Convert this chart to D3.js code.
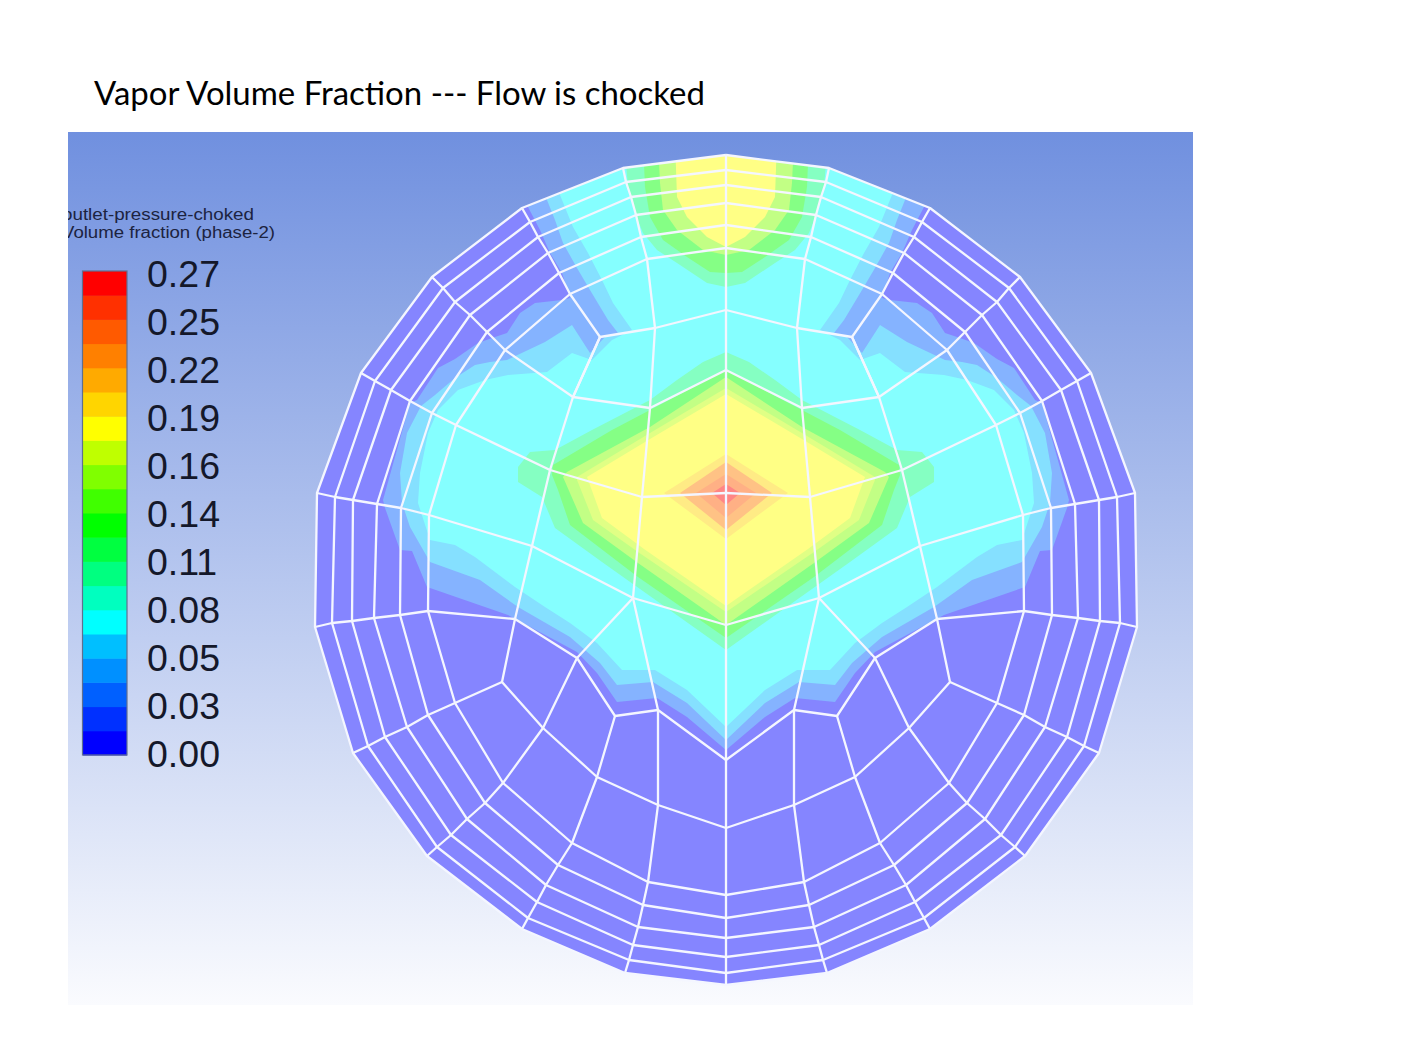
<!DOCTYPE html>
<html><head><meta charset="utf-8">
<script src="https://cdn.jsdelivr.net/npm/d3@7/dist/d3.min.js"></script>
<style>html,body{margin:0;padding:0;background:#fff}svg{display:block}</style>
</head><body><svg id="c" width="1414" height="1052"></svg>
<script>
// ---------- text ----------
const titleText = "Vapor Volume Fraction --- Flow is chocked";
const legendHeader = ["outlet-pressure-choked", "Volume fraction (phase-2)"];
const legendLabels = ["0.27","0.25","0.22","0.19","0.16","0.14","0.11","0.08","0.05","0.03","0.00"];
// colour bar, bottom to top
const legendColors = ["#0000ff","#0030ff","#0060ff","#0090ff","#00bfff","#00ffff","#00ffbf","#00ff80","#00ff40","#00ff00",
  "#40ff00","#80ff00","#bfff00","#ffff00","#ffd500","#ffaa00","#ff8000","#ff5a00","#ff3000","#ff0000"];

// ---------- mesh spokes, left half, section coordinates [u, v], outer boundary first ----------
const spokeTop   = [[0,415],[0,400],[0,385],[0,367],[0,345],[0,322]];
const spokeA     = [[-103,402],[-100,388],[-95,373],[-90,355],[-85,333],[-79,311]];
const spokeB     = [[-204,362],[-196,348],[-188,333],[-178,317],[-167,297],[-156,276]];
const spokeC     = [[-294,293],[-283,282],[-271,268],[-256,255],[-239,238],[-221,220]];
const spokeD     = [[-365,197],[-351,189],[-335,180],[-316,169],[-294,157],[-270,145]];
const spokeE     = [[-409,77],[-391,73],[-373,70],[-349,66],[-325,62],[-297,55]];
const spokeF     = [[-411,-57],[-394,-53],[-374,-51],[-352,-48],[-326,-45],[-298,-41]];
const spokeG     = [[-373,-183],[-358,-176],[-341,-167],[-319,-157],[-298,-145],[-271,-133]];
const spokeH     = [[-299,-286],[-289,-277],[-275,-265],[-259,-249],[-241,-233],[-223,-213]];
const spokeI     = [[-204,-359],[-198,-348],[-189,-332],[-180,-315],[-168,-295],[-154,-273]];
const spokeJ     = [[-101,-403],[-97,-390],[-93,-375],[-88,-357],[-83,-335],[-78,-312]];
const spokeBot   = [[0,-415],[0,-403],[0,-387],[0,-368],[0,-348],[0,-325]];
const spokes = [spokeTop,spokeA,spokeB,spokeC,spokeD,spokeE,spokeF,spokeG,spokeH,spokeI,spokeJ,spokeBot];

// ---------- interior mesh lines, left half ----------
const innerRing = [[0,260],[-71,242],[-126,233],[-153,173],[-176,100],[-194,24],[-211,-49],[-224,-112],[-183,-158],[-129,-207],[-68,-235],[0,-258]];
const innerLines = [
  [[-79,311],[-71,242],[-76,162],[-84,73],[-93,-28],[-68,-140],[-68,-235],[-78,-312]],
  [[-156,276],[-126,233],[-153,173]],
  [[-221,220],[-153,173],[-76,162],[0,200]],
  [[-270,145],[-176,100],[-84,73],[0,77]],
  [[-297,55],[-194,24],[-93,-28],[0,-55]],
  [[-298,-41],[-211,-49],[-149,-88],[-111,-146],[-68,-140],[0,-190]],
  [[-271,-133],[-224,-112]],
  [[-223,-213],[-183,-158],[-149,-88],[-93,-28]],
  [[-154,-273],[-129,-207],[-111,-146]]
];
const centreLine = [[0,415],[0,-415]];

// ---------- contour bands, left half outlines; legend index gives the value ----------
const band1 = [[-198,430],[-198,363],[-186,340],[-176,317],[-164,297],[-156,272],[-164,270],[-191,267],[-206,257],[-219,237],[-231,233],[-248,227],[-271,211],[-288,202],[-309,170],[-316,167],[-343,70],[-341,62],[-326,20],[-314,19],[-299,-17],[-296,-18],[-218,-45],[-149,-82],[-129,-103],[-109,-132],[-69,-128],[-39,-147],[0,-180]];
const band2 = [[-179,430],[-179,370],[-171,350],[-163,327],[-149,302],[-136,280],[-118,250],[-108,237],[-121,233],[-136,217],[-154,245],[-181,228],[-219,210],[-236,208],[-251,205],[-271,192],[-291,175],[-305,164],[-319,137],[-326,97],[-324,67],[-316,43],[-296,8],[-246,-10],[-208,-37],[-156,-67],[-126,-93],[-109,-115],[-73,-112],[-39,-133],[0,-170]];
const band3 = [[-166,430],[-166,375],[-153,343],[-138,317],[-124,290],[-113,267],[-94,240],[-114,230],[-134,210],[-154,217],[-179,198],[-218,195],[-241,190],[-268,180],[-288,160],[-298,137],[-306,97],[-308,67],[-296,30],[-271,25],[-251,13],[-211,-17],[-181,-37],[-156,-53],[-129,-73],[-104,-100],[-71,-100],[-39,-120],[0,-157]];
const topBand4 = [[-102,430],[-98,383],[-91,357],[-83,337],[-69,320],[-49,307],[-19,287],[0,283]];
const topBand5 = [[-83,430],[-81,383],[-76,353],[-63,330],[-39,313],[-16,298],[0,297]];
const topBand6 = [[-68,430],[-66,387],[-63,360],[-49,340],[-23,320],[0,315]];
const topBand7 = [[-51,430],[-49,373],[-39,353],[-19,333],[0,323]];
const midBand4 = [[0,218],[-23,208],[-49,190],[-76,170],[-134,140],[-171,120],[-196,118],[-208,103],[-208,88],[-184,73],[-171,42],[-124,8],[0,-80]];
const midBand5 = [[0,200],[-114,140],[-173,105],[-174,95],[-168,80],[-156,45],[-88,-7],[0,-68]];
const midBand6 = [[0,193],[-76,143],[-159,98],[-163,93],[-143,47],[-88,7],[0,-55]];
const midBand6b = [[0,182],[-76,137],[-149,93],[-149,90],[-133,50],[-88,18],[0,-42]];
const midBand7 = [[0,176],[-76,131],[-139,93],[-124,52],[-82,21],[0,-36]];
const midBand8 = [[0,116],[-62,77],[0,31]];
const midBand9 = [[0,108],[-46,77],[0,40]];
const midBand10 = [[0,96],[-30,77],[0,52]];
const midBand11 = [[0,86],[-14,77],[0,65]];
const contourBands = [band1,band2,band3,topBand4,topBand5,topBand6,topBand7,midBand4,midBand5,midBand6,midBand6b,midBand7,midBand8,midBand9,midBand10,midBand11];
const contourLegendIndex = [2,4,5,7,9,11,13,7,9,11,12,13,14,16,17,19];
const baseLegendIndex = 0;

// ---------- scales ----------
const x = d3.scaleLinear().domain([-411,411]).range([315,1137]);
const y = d3.scaleLinear().domain([-415,415]).range([985,155]);
const barY = d3.scaleBand().domain(d3.range(legendColors.length).reverse()).range([271,755]);
const labelY = d3.scalePoint().domain(legendLabels).range([287,767]);
const line = d3.line().x(d=>x(d[0])).y(d=>y(d[1]));
const mirror = pts => pts.map(([u,v])=>[-u,v]);
const closedFromHalf = half => line(half.concat(mirror(half).reverse()))+"Z";
const pale = c => d3.interpolateRgb(c,"#fff")(0.52);

// ---------- draw ----------
const svg = d3.select("#c");
const defs = svg.append("defs");
const grad = defs.append("linearGradient").attr("id","bg").attr("x1",0).attr("x2",0).attr("y1",0).attr("y2",1);
grad.append("stop").attr("offset",0).attr("stop-color","#7090df");
grad.append("stop").attr("offset",1).attr("stop-color","#fafbfe");
defs.append("clipPath").attr("id","view").append("rect").attr("x",68).attr("y",132).attr("width",1125).attr("height",873);
const outerHalf = spokes.map(s=>s[0]);
defs.append("clipPath").attr("id","disc").append("path").attr("d",closedFromHalf(outerHalf));

svg.append("text").attr("x",94).attr("y",105).attr("font-family","Lato, 'Open Sans', sans-serif").attr("font-size",33)
  .attr("textLength",611).attr("lengthAdjust","spacingAndGlyphs").attr("fill","#000").text(titleText);

const view = svg.append("g").attr("clip-path","url(#view)");
view.append("rect").attr("x",68).attr("y",132).attr("width",1125).attr("height",873).attr("fill","url(#bg)");

// legend
const legendFont = "'Liberation Sans', Arial, sans-serif";
view.selectAll("text.h").data(legendHeader).join("text").attr("class","h")
  .attr("x",62).attr("y",(d,i)=>[219.5,238][i])
  .attr("textLength",(d,i)=>[192,213][i]).attr("lengthAdjust","spacingAndGlyphs")
  .attr("font-family",legendFont).attr("font-size",16).attr("fill","#1c2340").text(d=>d);
view.selectAll("rect.b").data(legendColors).join("rect").attr("class","b")
  .attr("x",83).attr("width",44).attr("y",(d,i)=>barY(i)).attr("height",barY.bandwidth()+0.5).attr("fill",d=>d);
view.append("rect").attr("x",82.5).attr("y",271).attr("width",44.5).attr("height",484).attr("fill","none").attr("stroke","#5f6f8f").attr("stroke-width",1.2);
view.selectAll("text.l").data(legendLabels).join("text").attr("class","l")
  .attr("x",147).attr("y",d=>labelY(d)).attr("font-family",legendFont).attr("font-size",37.5).attr("fill","#14182a").text(d=>d);

// section
const disc = view.append("g").attr("clip-path","url(#disc)");
disc.append("path").attr("d",closedFromHalf(outerHalf)).attr("fill",pale(legendColors[baseLegendIndex]));
disc.selectAll("path.band").data(contourBands).join("path").attr("class","band")
  .attr("d",closedFromHalf).attr("fill",(d,i)=>pale(legendColors[contourLegendIndex[i]]));

// mesh
const rings = d3.range(spokeTop.length).map(r=>spokes.map(s=>s[r]));
const meshHalf = [...rings,...spokes.slice(1,-1),innerRing,...innerLines];
const mesh = view.append("g").attr("fill","none").attr("stroke","#f4f6ff").attr("stroke-width",2.3).attr("stroke-linejoin","round");
mesh.selectAll("path.l").data(meshHalf).join("path").attr("class","l").attr("d",line);
mesh.selectAll("path.r").data(meshHalf).join("path").attr("class","r").attr("d",d=>line(mirror(d)));
mesh.append("path").attr("d",line(centreLine));
</script></body></html>
